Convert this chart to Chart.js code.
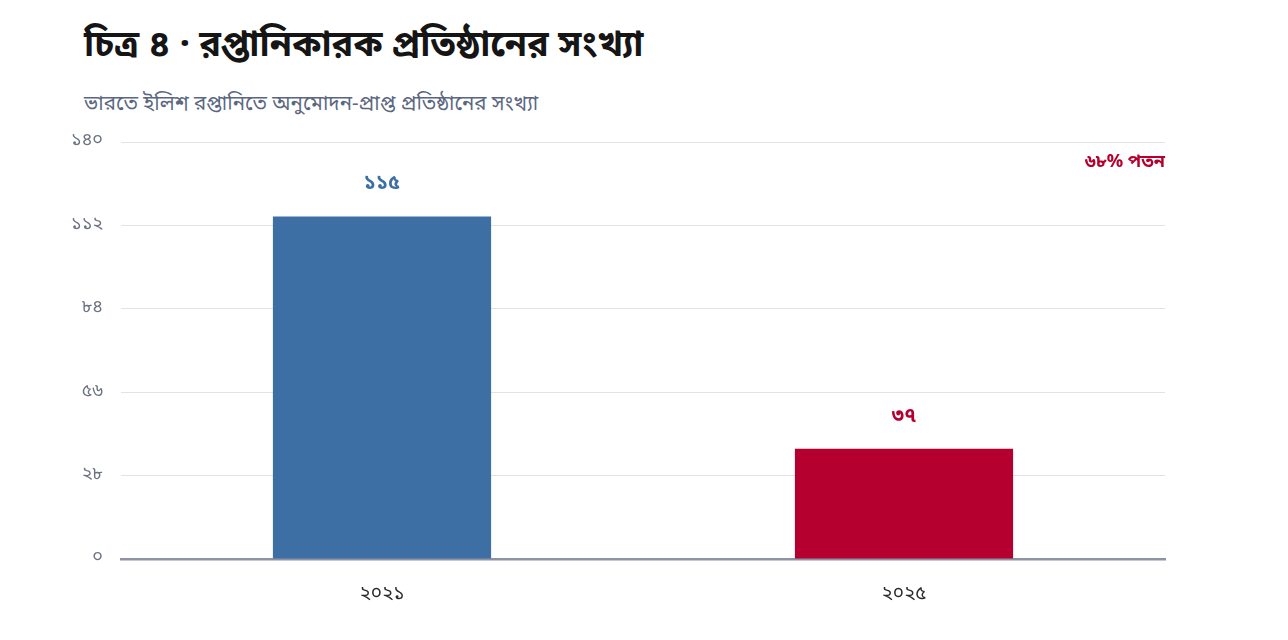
<!DOCTYPE html>
<html>
<head>
<meta charset="utf-8">
<script src="https://cdn.jsdelivr.net/npm/chart.js@4"></script>
<style>
  html, body { margin: 0; padding: 0; background: #fff; }
  #wrap { position: relative; width: 1288px; height: 640px; font-family: 'Noto Sans Bengali', 'Noto Sans', sans-serif; }
  #title { position: absolute; left: 84px; top: 23px; font-size: 36px; font-weight: 700; color: #151515; white-space: nowrap; }
  #subtitle { position: absolute; left: 84px; top: 91px; font-size: 20.5px; color: #5b6781; white-space: nowrap; }
  canvas { position: absolute; left: 0; top: 0; }
</style>
</head>
<body>
<div id="wrap">
  <div id="title">চিত্র ৪ · রপ্তানিকারক প্রতিষ্ঠানের সংখ্যা</div>
  <div id="subtitle">ভারতে ইলিশ রপ্তানিতে অনুমোদন-প্রাপ্ত প্রতিষ্ঠানের সংখ্যা</div>
  <canvas id="chart" width="1288" height="640"></canvas>
</div>
<script>
// data
const years = ["২০২১", "২০২৫"];
const exporters = [115, 37];
const valueLabels = ["১১৫", "৩৭"];
const yTickLabels = ["০", "২৮", "৫৬", "৮৪", "১১২", "১৪০"];
const dropNote = "৬৮% পতন";

const barColors = ["#3d6fa5", "#b5002f"];
const fontFamily = "'Noto Sans Bengali', 'Noto Sans', sans-serif";

// value labels over the bars + the drop note
const barLabels = {
  id: "barLabels",
  afterDatasetsDraw(chart) {
    const ctx = chart.ctx;
    const meta = chart.getDatasetMeta(0);
    ctx.save();
    ctx.textAlign = "center";
    ctx.textBaseline = "middle";
    ctx.font = "700 20px " + fontFamily;
    meta.data.forEach((bar, i) => {
      ctx.fillStyle = barColors[i];
      ctx.fillText(valueLabels[i], bar.x, bar.y - 31);
    });
    const area = chart.chartArea;
    ctx.textAlign = "right";
    ctx.font = "700 18px " + fontFamily;
    ctx.fillStyle = "#b5002f";
    ctx.fillText(dropNote, area.right, area.top + 22);
    ctx.restore();
  }
};

new Chart(document.getElementById("chart"), {
  type: "bar",
  data: {
    labels: years,
    datasets: [{
      data: exporters,
      backgroundColor: barColors,
      borderWidth: 0,
      categoryPercentage: 1,
      barPercentage: 0.418
    }]
  },
  options: {
    responsive: false,
    animation: false,
    layout: { padding: { top: 142, right: 123, left: 0, bottom: 0 } },
    plugins: {
      legend: { display: false },
      tooltip: { enabled: false }
    },
    scales: {
      x: {
        grid: { display: false },
        border: { color: "#8d93a3", width: 2.5 },
        ticks: { color: "#2a2a2a", font: { family: fontFamily, size: 19 }, padding: 17 },
        afterFit(scale) { scale.height = 81; }
      },
      y: {
        min: 0,
        max: 140,
        grid: { color: "#e3e3e6", drawTicks: false },
        border: { display: false },
        ticks: {
          stepSize: 28,
          padding: 18,
          color: "#6b7280",
          font: { family: fontFamily, size: 18 },
          callback: (v, i) => yTickLabels[i]
        },
        afterFit(scale) { scale.width = 121; }
      }
    }
  },
  plugins: [barLabels]
});
</script>
</body>
</html>
